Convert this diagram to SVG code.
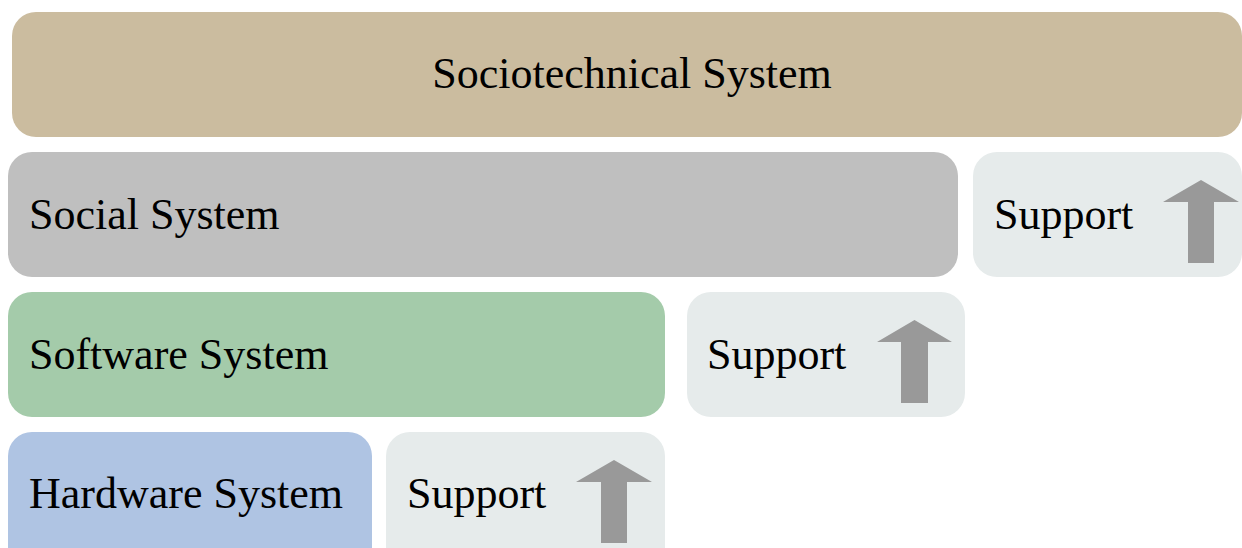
<svg xmlns="http://www.w3.org/2000/svg" width="1242" height="548" viewBox="0 0 1242 548">
<style>
text{font-family:"Liberation Serif","Times New Roman",serif;font-size:44px;fill:#000}
.sup{fill:#E6EBEB}
.arr{fill:#999999}
</style>
<rect width="1242" height="548" fill="#fff"/>
<g id="sociotechnical">
<rect x="12" y="12" width="1230" height="125" rx="24" fill="#CBBC9F"/>
<text x="632" y="88" text-anchor="middle">Sociotechnical System</text>
</g>
<g id="social">
<rect x="8" y="152" width="950" height="125" rx="24" fill="#BFBFBF"/>
<text x="29" y="229">Social System</text>
</g>
<g id="support-social">
<rect class="sup" x="973" y="152" width="269" height="125" rx="24"/>
<text x="994" y="229">Support</text>
</g>
<g id="software">
<rect x="8" y="292" width="657" height="125" rx="24" fill="#A4CBAA"/>
<text x="29" y="369">Software System</text>
</g>
<g id="support-software">
<rect class="sup" x="687" y="292" width="278" height="125" rx="24"/>
<text x="707" y="369">Support</text>
</g>
<g id="hardware">
<rect x="8" y="432" width="364" height="140" rx="24" fill="#AFC4E3"/>
<text x="29" y="508">Hardware System</text>
</g>
<g id="support-hardware">
<rect class="sup" x="386" y="432" width="279" height="140" rx="24"/>
<text x="407" y="508">Support</text>
</g>
<g id="connectors">
<polygon class="arr" points="1201,180 1239,202 1214,202 1214,263 1188,263 1188,202 1163,202"/>
<polygon class="arr" points="914.5,320 952,342 928,342 928,403 901,403 901,342 877,342"/>
<polygon class="arr" points="614,460 652,482 627,482 627,543 601,543 601,482 576,482"/>
</g>
</svg>
